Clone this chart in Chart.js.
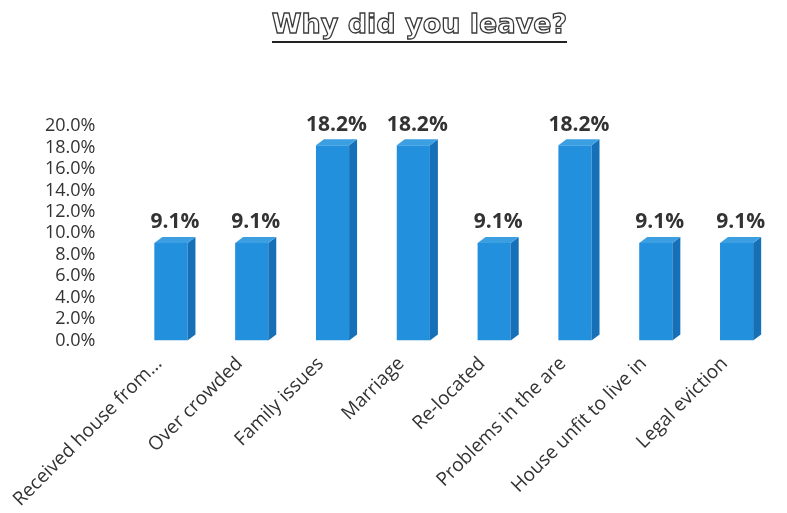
<!DOCTYPE html>
<html>
<head>
<meta charset="utf-8">
<script src="https://cdn.jsdelivr.net/npm/chart.js@4/dist/chart.umd.min.js"></script>
<style>
  html, body { margin: 0; padding: 0; background: #ffffff; }
  #wrap { position: relative; width: 787px; height: 513px; }
  #title {
    position: absolute; left: 26px; top: 8px; width: 787px; text-align: center;
    font-family: "DejaVu Sans", sans-serif; font-weight: bold; font-size: 27px;
    color: #ffffff; -webkit-text-stroke: 1.3px #3a3a3a;
  }
  #title span { border-bottom: 2.5px solid #222; padding-bottom: 2px; }
  canvas { position: absolute; left: 0; top: 0; }
</style>
</head>
<body>
<div id="wrap">
  <canvas id="c" width="787" height="513"></canvas>
  <div id="title"><span>Why did you leave?</span></div>
</div>
<script>
const categories = ["Received house from...", "Over crowded", "Family issues", "Marriage", "Re-located", "Problems in the are", "House unfit to live in", "Legal eviction"];
const values = [9.1, 9.1, 18.2, 18.2, 9.1, 18.2, 9.1, 9.1];
const yTicks = [0, 2, 4, 6, 8, 10, 12, 14, 16, 18, 20];

const DEPTH = 8;
const RISE = 6;

const bar3d = {
  id: 'bar3d',
  afterDatasetsDraw(chart) {
    const ctx = chart.ctx;
    const meta = chart.getDatasetMeta(0);
    ctx.save();
    meta.data.forEach((bar, i) => {
      const p = bar.getProps(['x', 'y', 'base', 'width'], true);
      const l = p.x - p.width / 2, r = p.x + p.width / 2;
      ctx.fillStyle = '#1670b8';
      ctx.beginPath();
      ctx.moveTo(r, p.y);
      ctx.lineTo(r + DEPTH, p.y - RISE);
      ctx.lineTo(r + DEPTH, p.base - RISE);
      ctx.lineTo(r, p.base);
      ctx.closePath();
      ctx.fill();
      ctx.fillStyle = '#3b9fe2';
      ctx.beginPath();
      ctx.moveTo(l, p.y);
      ctx.lineTo(l + DEPTH, p.y - RISE);
      ctx.lineTo(r + DEPTH, p.y - RISE);
      ctx.lineTo(r, p.y);
      ctx.closePath();
      ctx.fill();
      ctx.fillStyle = '#333333';
      ctx.font = 'bold 21px "Open Sans", sans-serif';
      ctx.textAlign = 'center';
      ctx.textBaseline = 'bottom';
      ctx.fillText(values[i].toFixed(1) + '%', p.x + DEPTH / 2, p.y - RISE - 4);
    });
    ctx.restore();
  }
};

new Chart(document.getElementById('c'), {
  type: 'bar',
  data: {
    labels: categories,
    datasets: [{
      data: values,
      backgroundColor: '#2290dc',
      borderWidth: 0,
      barPercentage: 0.82,
      categoryPercentage: 0.5
    }]
  },
  options: {
    responsive: false,
    animation: false,
    layout: { padding: { top: 126, left: 10, right: 10, bottom: -10 } },
    plugins: {
      legend: { display: false },
      tooltip: { enabled: false },
      title: { display: false }
    },
    scales: {
      x: {
        grid: { display: false, drawTicks: false },
        border: { display: false },
        ticks: {
          minRotation: 45, maxRotation: 45, padding: 12, autoSkip: false,
          labelOffset: -12,
          color: '#333333',
          font: { family: '"Open Sans", sans-serif', size: 19 }
        }
      },
      y: {
        min: 0, max: 20,
        afterBuildTicks(scale) { scale.ticks = yTicks.map(v => ({ value: v })); },
        grid: { display: false, drawTicks: false },
        border: { display: false },
        ticks: {
          autoSkip: false,
          padding: 35,
          color: '#333333',
          font: { family: '"Open Sans", sans-serif', size: 18, lineHeight: 1 },
          callback: v => v.toFixed(1) + '%'
        }
      }
    }
  },
  plugins: [bar3d]
});
</script>
</body>
</html>
